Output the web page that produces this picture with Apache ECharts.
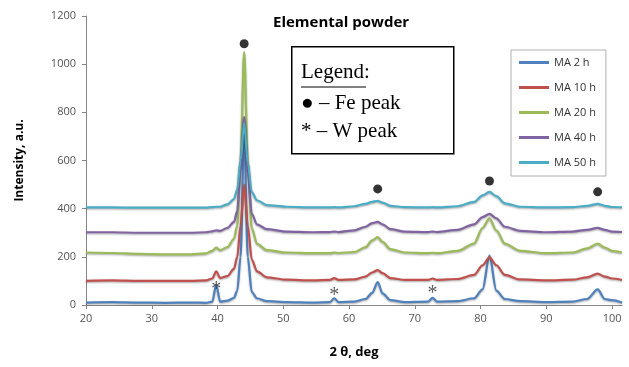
<!DOCTYPE html>
<html><head><meta charset="utf-8">
<script src="https://cdn.jsdelivr.net/npm/echarts@6/dist/echarts.min.js"></script>
<style>html,body{margin:0;padding:0;background:#fff}#c{width:629px;height:367px}</style>
</head><body><div id="c"></div>
<script>
const twoTheta = [20,24,28,32,36,38.2,39.2,39.8,40.4,41.5,42.5,43.0,43.5,44.05,44.6,45.2,46,47.5,50.5,54.5,57.1,57.75,58.4,60.8,62.5,63.5,64.35,65.1,66.3,68.5,72,72.7,73.4,76.5,79,80.3,81.35,82.4,83.7,86,90,94,96.2,97.8,98.9,100,101.5];
const ma2  = [10,12,10,9,10,9,14,85,14,18,30,60,200,720,200,55,28,16,12,10,12,28,12,14,25,50,95,48,20,12,14,30,14,16,28,65,205,60,25,16,12,14,25,65,25,20,10];
const ma10 = [100,102,100,100,100,102,110,140,112,120,150,200,330,500,330,190,140,115,105,102,104,112,104,106,118,135,145,132,112,104,104,110,104,108,125,165,198,165,125,106,102,105,115,130,118,110,104];
const ma20 = [218,216,212,210,210,214,225,238,228,240,275,330,600,1050,600,320,255,228,218,215,215,218,216,220,240,268,282,262,232,218,215,217,215,225,255,320,360,310,255,225,215,218,235,255,238,225,218];
const ma40 = [302,302,300,300,300,302,306,310,308,320,345,390,560,780,550,380,335,315,305,302,303,305,303,310,325,340,345,335,315,305,303,305,303,312,335,365,378,360,325,308,302,305,312,320,312,305,303];
const ma50 = [405,405,404,404,404,404,406,408,408,418,440,480,600,755,590,470,435,415,408,405,405,406,405,410,420,428,432,425,412,406,405,406,405,410,428,455,470,452,422,408,405,406,412,420,412,407,405];
const seriesNames = ['MA 2 h','MA 10 h','MA 20 h','MA 40 h','MA 50 h'];
const seriesData = [ma2, ma10, ma20, ma40, ma50];
const colors = ['#4F81BD','#C0504D','#9BBB59','#8064A2','#4BACC6'];
const fePeakX = [44.05, 64.35, 81.35, 97.8];
const fePeakY = [1085, 482, 515, 470];
const wPeakX = [39.8, 57.75, 72.7];
const wPeakY = [62, 40, 48];
const yTicks = [0, 1200, 200];
const xTicks = [20, 101.5, 10];

const chart = echarts.init(document.getElementById('c'));
const lines = seriesNames.map((n, i) => ({
  name: n, type: 'line', symbol: 'none', smooth: 0.3, smoothMonotone: 'x',
  data: twoTheta.map((x, j) => [x, seriesData[i][j]]),
  lineStyle: { width: 2.2, color: colors[i], shadowColor: 'rgba(0,0,0,0.35)', shadowBlur: 2, shadowOffsetY: 1 },
  itemStyle: { color: colors[i] }, z: 2 + i
}));
lines.push({
  type: 'scatter', symbol: 'circle', symbolSize: 9, itemStyle: { color: '#000' },
  data: fePeakX.map((x, i) => [x, fePeakY[i]]), z: 10, silent: true
});
lines.push({
  type: 'scatter', symbol: 'circle', symbolSize: 1, itemStyle: { color: 'rgba(0,0,0,0)' },
  data: wPeakX.map((x, i) => [x, wPeakY[i]]), z: 10, silent: true,
  label: { show: true, position: 'inside', formatter: '*', fontFamily: 'Liberation Serif', fontSize: 20, color: '#333' }
});

chart.setOption({
  animation: false,
  title: { text: 'Elemental powder', left: 268, top: 10, textStyle: { fontFamily: 'Open Sans', fontWeight: 'bold', fontSize: 15, color: '#000' } },
  grid: { left: 86, right: 7, top: 16, bottom: 62, containLabel: false },
  legend: {
    data: seriesNames, orient: 'vertical', left: 511, top: 50, width: 111,
    padding: [7, 10, 8, 8], itemGap: 14, itemWidth: 30, itemHeight: 11,
    icon: 'path://M0,4 L30,4 L30,7 L0,7 Z',
    borderColor: '#b0b0b0', borderWidth: 1, backgroundColor: '#fff',
    textStyle: { fontFamily: 'Open Sans', fontSize: 11, color: '#333' }
  },
  xAxis: {
    type: 'value', min: xTicks[0], max: xTicks[1], interval: xTicks[2],
    name: '2 θ, deg', nameLocation: 'middle', nameGap: 41,
    nameTextStyle: { fontFamily: 'Open Sans', fontWeight: 'bold', fontSize: 13, color: '#000' },
    axisLine: { lineStyle: { color: '#868686' } },
    axisTick: { show: true, length: 4, lineStyle: { color: '#868686' } },
    axisLabel: { fontFamily: 'Open Sans', fontSize: 11, color: '#555', margin: 8, showMaxLabel: false },
    splitLine: { show: false }
  },
  yAxis: {
    type: 'value', min: yTicks[0], max: yTicks[1], interval: yTicks[2],
    name: 'Intensity, a.u.', nameLocation: 'middle', nameGap: 60, nameRotate: 90,
    nameTextStyle: { fontFamily: 'Open Sans', fontWeight: 'bold', fontSize: 12, color: '#000' },
    axisLine: { show: true, lineStyle: { color: '#868686' } },
    axisTick: { show: true, length: 4, lineStyle: { color: '#868686' } },
    axisLabel: { fontFamily: 'Open Sans', fontSize: 11, color: '#555', margin: 10, formatter: v => String(v) },
    splitLine: { show: false }
  },
  graphic: [
    { type: 'rect', left: 291, top: 46, shape: { width: 162, height: 107 }, style: { fill: '#fff', stroke: '#000', lineWidth: 1.5 }, z: 20 },
    { type: 'text', left: 301, top: 62, style: { text: 'Legend:', font: '21px "Liberation Serif"', fill: '#000' }, z: 21 },
    { type: 'line', shape: { x1: 301, y1: 87, x2: 366, y2: 87 }, style: { stroke: '#000', lineWidth: 1 }, z: 21 },
    { type: 'text', left: 301, top: 93, style: { text: '● – Fe peak', font: '21px "Liberation Serif"', fill: '#000' }, z: 21 },
    { type: 'text', left: 301, top: 121, style: { text: '* – W peak', font: '21px "Liberation Serif"', fill: '#000' }, z: 21 }
  ],
  series: lines
});
</script></body></html>
